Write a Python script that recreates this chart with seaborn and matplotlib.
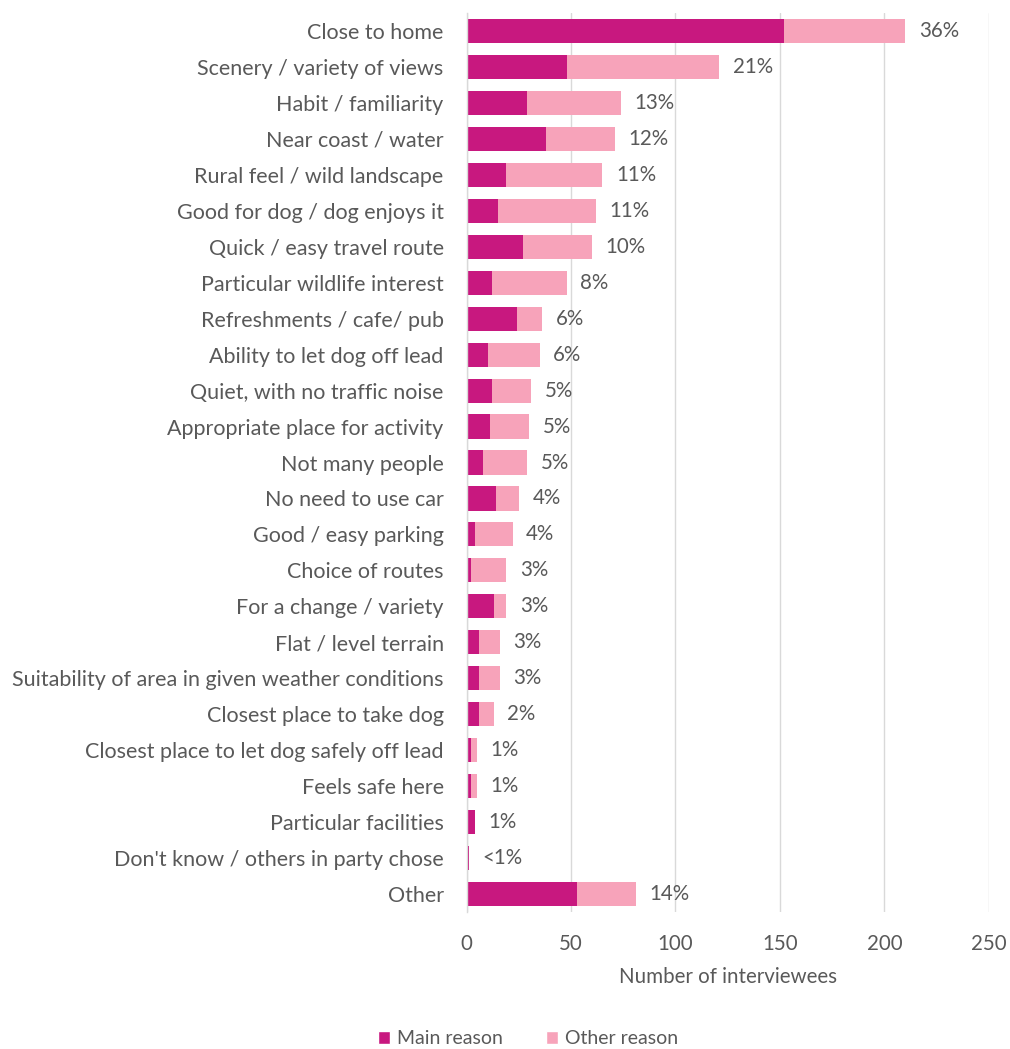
import matplotlib
matplotlib.use("Agg")
import matplotlib.pyplot as plt
import seaborn as sns
import pandas as pd
from matplotlib.patches import Patch

reasons = [
    "Close to home",
    "Scenery / variety of views",
    "Habit / familiarity",
    "Near coast / water",
    "Rural feel / wild landscape",
    "Good for dog / dog enjoys it",
    "Quick / easy travel route",
    "Particular wildlife interest",
    "Refreshments / cafe/ pub",
    "Ability to let dog off lead",
    "Quiet, with no traffic noise",
    "Appropriate place for activity",
    "Not many people",
    "No need to use car",
    "Good / easy parking",
    "Choice of routes",
    "For a change / variety",
    "Flat / level terrain",
    "Suitability of area in given weather conditions",
    "Closest place to take dog",
    "Closest place to let dog safely off lead",
    "Feels safe here",
    "Particular facilities",
    "Don't know / others in party chose",
    "Other",
]
main_reason = [152, 48, 29, 38, 19, 15, 27, 12, 24, 10, 12, 11, 8, 14, 4, 2, 13, 6, 6, 6, 2, 2, 4, 1, 53]
other_reason = [58, 73, 45, 33, 46, 47, 33, 36, 12, 25, 19, 19, 21, 11, 18, 17, 6, 10, 10, 7, 3, 3, 0, 0, 28]
pct_labels = ["36%", "21%", "13%", "12%", "11%", "11%", "10%", "8%", "6%", "6%", "5%", "5%",
              "5%", "4%", "4%", "3%", "3%", "3%", "3%", "2%", "1%", "1%", "1%", "<1%", "14%"]

MAIN_COLOR = "#C8187F"
OTHER_COLOR = "#F7A3BA"
TEXT_COLOR = "#595959"
GRID_COLOR = "#D9D9D9"
FS = 14.8

df = pd.DataFrame({"reason": reasons, "main": main_reason, "other": other_reason})
df["total"] = df["main"] + df["other"]

sns.set_theme(style="white")
plt.rcParams["font.family"] = ["Lato", "DejaVu Sans"]

fig = plt.figure(figsize=(10.10, 10.49), dpi=100)
ax = fig.add_axes([0.462, 0.1306, 0.517, 0.857])

# Stacked bars: full total in light pink, main reason drawn over it
sns.barplot(data=df, x="total", y="reason", order=reasons, color=OTHER_COLOR,
            width=0.67, saturation=1, linewidth=0, ax=ax, orient="h")
sns.barplot(data=df, x="main", y="reason", order=reasons, color=MAIN_COLOR,
            width=0.67, saturation=1, linewidth=0, ax=ax, orient="h")

for i, (tot, lab) in enumerate(zip(df["total"], pct_labels)):
    ax.text(tot + 6.5, i, lab, va="center", ha="left", fontsize=FS, color=TEXT_COLOR)

ax.set_xlim(0, 250)
ax.set_ylim(len(reasons) - 0.5, -0.5)
ax.set_xticks([0, 50, 100, 150, 200, 250])
ax.grid(axis="x", color=GRID_COLOR, linewidth=1)
ax.grid(axis="y", visible=False)
ax.set_axisbelow(True)
for side in ["top", "right", "bottom"]:
    ax.spines[side].set_visible(False)
ax.spines["left"].set_color(GRID_COLOR)
ax.spines["left"].set_linewidth(1)

ax.tick_params(axis="y", length=0, pad=16.5, labelsize=15.5, labelcolor=TEXT_COLOR)
ax.tick_params(axis="x", length=0, pad=16, labelsize=FS, labelcolor=TEXT_COLOR)
ax.set_ylabel("")
ax.set_xlabel("Number of interviewees", fontsize=FS, color=TEXT_COLOR, labelpad=9)

handles = [Patch(facecolor=MAIN_COLOR, label="Main reason"),
           Patch(facecolor=OTHER_COLOR, label="Other reason")]
fig.legend(handles=handles, loc="lower center", bbox_to_anchor=(0.523, -0.015), ncol=2,
           frameon=False, fontsize=14, handlelength=0.6, handleheight=0.6,
           handletextpad=0.4, columnspacing=2.2, labelcolor=TEXT_COLOR)

fig.savefig("out.png", dpi=100, facecolor="white")
